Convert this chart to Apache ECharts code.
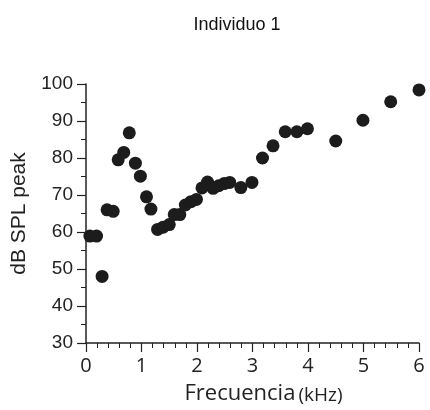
<!DOCTYPE html>
<html>
<head>
<meta charset="utf-8">
<script src="https://cdn.jsdelivr.net/npm/echarts@6/dist/echarts.min.js"></script>
<style>
html,body{margin:0;padding:0;background:#fff;}
#chart{width:430px;height:410px;}
</style>
</head>
<body>
<div id="chart"></div>
<script>
// frecuencia (kHz) y nivel (dB SPL peak)
var freq = [0.07,0.19,0.29,0.38,0.49,0.58,0.68,0.78,0.89,0.98,1.09,1.17,1.29,1.39,1.5,1.59,1.69,1.79,1.89,1.99,2.09,2.19,2.29,2.39,2.49,2.59,2.79,2.99,3.18,3.37,3.59,3.8,3.99,4.5,4.99,5.49,6.0];
var spl = [58.9,58.9,48.0,66.0,65.6,79.5,81.5,86.8,78.6,75.1,69.5,66.2,60.7,61.3,62.0,64.7,64.7,67.3,68.2,68.8,71.9,73.5,71.8,72.5,73.1,73.4,72.0,73.4,80.0,83.3,87.1,87.1,87.9,84.6,90.2,95.2,98.4];
var xTicks = [0,1,2,3,4,5,6];
var yTicks = [30,40,50,60,70,80,90,100];

var pts = [];
for (var i = 0; i < freq.length; i++) {
  pts.push([freq[i], spl[i]]);
}

var myChart = echarts.init(document.getElementById('chart'));
var option = {
  animation: false,
  title: {
    text: 'Individuo 1',
    left: 232,
    textAlign: 'center',
    top: 11,
    textStyle: { fontFamily: 'Liberation Sans', fontSize: 18, fontWeight: 'normal', color: '#111' }
  },
  grid: { left: 86, right: 11, top: 84, bottom: 64 },
  xAxis: {
    type: 'value',
    min: xTicks[0], max: xTicks[xTicks.length - 1], interval: 1,
    name: 'Frecuencia{s|(kHz)}',
    nameLocation: 'middle',
    nameGap: 40,
    nameTextStyle: {
      fontFamily: 'Open Sans', fontSize: 22, color: '#222', padding: [0, 0, 0, 22],
      rich: { s: { fontFamily: 'Open Sans', fontSize: 19, color: '#222', padding: [3, 0, 0, 3] } }
    },
    axisLine: { lineStyle: { color: '#222', width: 1.5 } },
    axisTick: { inside: false, length: 9, lineStyle: { color: '#222', width: 1.2 } },
    minorTick: { show: true, splitNumber: 5, length: 5, lineStyle: { color: '#222', width: 1 } },
    axisLabel: { fontFamily: 'Open Sans', fontSize: 20, color: '#222', margin: 13 },
    splitLine: { show: false }
  },
  yAxis: {
    type: 'value',
    min: yTicks[0], max: yTicks[yTicks.length - 1], interval: 10,
    name: 'dB SPL peak',
    nameLocation: 'middle',
    nameGap: 56,
    nameTextStyle: { fontFamily: 'Liberation Sans', fontSize: 21, color: '#222' },
    axisLine: { show: true, lineStyle: { color: '#222', width: 1.5 } },
    axisTick: { show: true, inside: false, length: 9, lineStyle: { color: '#222', width: 1.2 } },
    minorTick: { show: true, splitNumber: 2, length: 5, lineStyle: { color: '#222', width: 1 } },
    axisLabel: { fontFamily: 'Liberation Sans', fontSize: 19, color: '#222', margin: 13 },
    splitLine: { show: false }
  },
  series: [{
    type: 'scatter',
    data: pts,
    symbol: 'circle',
    symbolSize: 13,
    itemStyle: { color: '#1c1c1c', opacity: 1 }
  }]
};
myChart.setOption(option);
</script>
</body>
</html>
